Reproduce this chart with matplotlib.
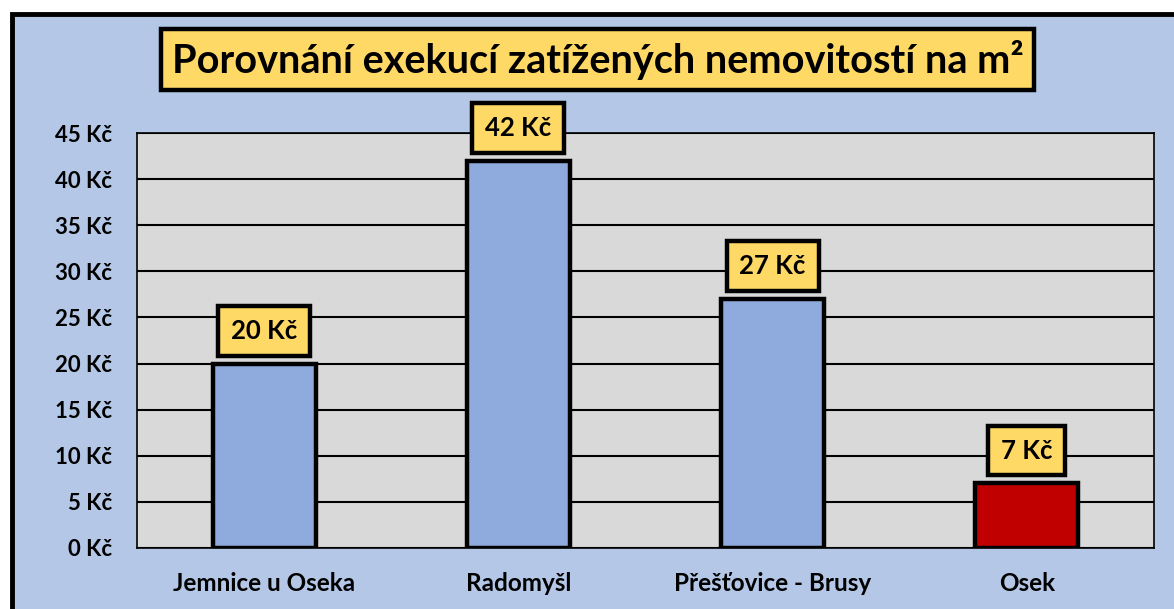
import matplotlib
matplotlib.use("Agg")
import matplotlib.pyplot as plt
from matplotlib.patches import Rectangle

plt.rcParams['font.family'] = ['Lato', 'DejaVu Sans']

# data
places = ["Jemnice u Oseka", "Radomyšl", "Přešťovice - Brusy", "Osek"]
prices = [20, 42, 27, 7]
bar_colors = ["#8FAADC", "#8FAADC", "#8FAADC", "#C00000"]
yticks = [0, 5, 10, 15, 20, 25, 30, 35, 40, 45]
title = "Porovnání exekucí zatížených nemovitostí na m²"

W, H = 1174, 609
fig = plt.figure(figsize=(W / 100, H / 100), dpi=100)
fig.patch.set_facecolor("white")

# chart area background with black frame (clipped on right/bottom)
fig.patches.append(Rectangle((12 / W, -0.05), 1.1, (H - 14) / H + 0.05,
                             transform=fig.transFigure, facecolor="#B4C7E7",
                             edgecolor="black", linewidth=3.5, zorder=-5))

ax = fig.add_axes([137 / W, (H - 548) / H, (1154 - 137) / W, (548 - 133) / H])
ax.set_zorder(2)
ax.set_facecolor("#D9D9D9")
x = range(len(places))
ax.bar(x, prices, width=0.405, color=bar_colors, edgecolor="black",
       linewidth=3.2, zorder=3)
ax.set_xlim(-0.5, len(places) - 0.5)
ax.set_ylim(0, 45)
ax.set_yticks(yticks)
ax.set_yticklabels([f"{v} Kč" for v in yticks])
ax.set_xticks(list(x))
ax.set_xticklabels(places)
ax.tick_params(length=0)
ax.tick_params(axis="y", pad=18, labelsize=16)
ax.tick_params(axis="x", pad=17, labelsize=17.5)
for lab in ax.get_xticklabels() + ax.get_yticklabels():
    lab.set_fontweight("bold")
ax.grid(axis="y", color="black", linewidth=1.5, zorder=1)
ax.set_axisbelow(True)
for s in ax.spines.values():
    s.set_color("black")
    s.set_linewidth(1.2)

for i, v in enumerate(prices):
    ax.annotate(f"{v} Kč", (i, v), xytext=(0, 15), textcoords="offset points",
                ha="center", va="bottom", fontsize=18.5, fontweight="bold",
                bbox=dict(boxstyle="square,pad=0.5", facecolor="#FFD966",
                          edgecolor="black", linewidth=3.2), zorder=5)

fig.text(597.5 / W, (H - 59.5) / H, title, ha="center", va="center",
         fontsize=28.5, fontweight="bold", zorder=6,
         bbox=dict(boxstyle="square,pad=0.27", facecolor="#FFD966",
                   edgecolor="black", linewidth=3.2))

fig.savefig("out.png", dpi=100)
